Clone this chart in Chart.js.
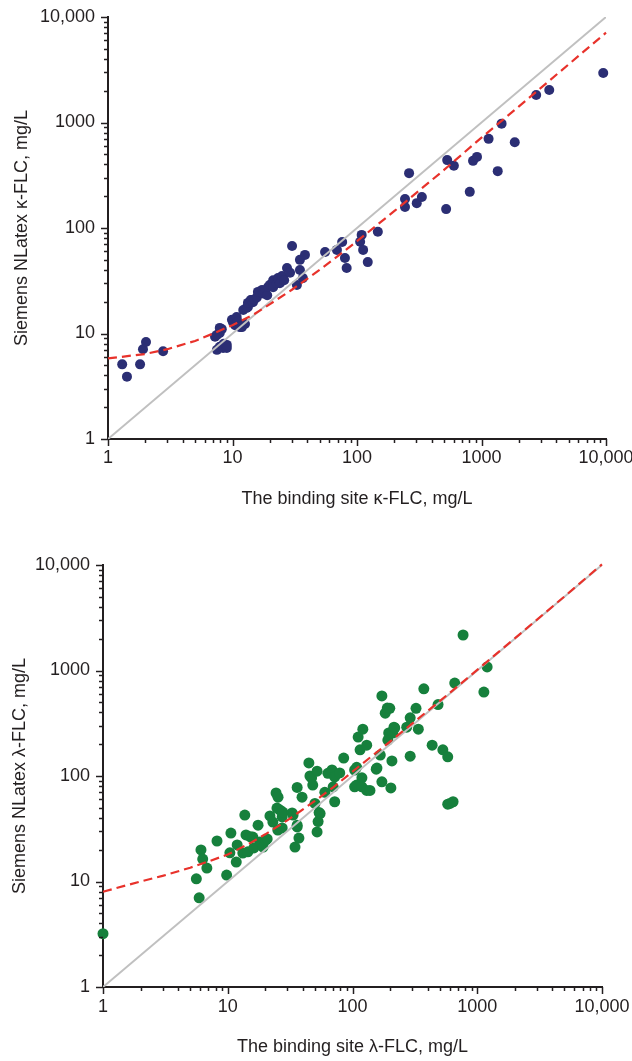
<!DOCTYPE html>
<html><head><meta charset="utf-8">
<script src="https://cdn.jsdelivr.net/npm/chart.js@4.4.1/dist/chart.umd.min.js"></script>
<style>
html,body{margin:0;padding:0;background:#fff;}
#wrap{position:relative;width:632px;height:1061px;overflow:hidden;}
canvas{position:absolute;left:0;}
#c1{top:0;} #c2{top:530px;}
</style></head><body>
<div id="wrap"><canvas id="c1" width="632" height="530"></canvas><canvas id="c2" width="632" height="531"></canvas></div>
<script>
// ---- tick labels ----
const tickValues = [1, 10, 100, 1000, 10000];
const tickLabels = ['1', '10', '100', '1000', '10,000'];

// ---- axis titles ----
const kappaXTitle = 'The binding site \u03BA-FLC, mg/L';
const kappaYTitle = 'Siemens NLatex \u03BA-FLC, mg/L';
const lambdaXTitle = 'The binding site \u03BB-FLC, mg/L';
const lambdaYTitle = 'Siemens NLatex \u03BB-FLC, mg/L';

// ---- kappa data (Binding Site x, Siemens y) ----
const kappaX = [1.3,1.42,1.81,1.91,2.02,2.77,
  7.24,7.5,7.9,8.2,8.4,8.5,9.0,7.9,7.5,9.0,7.9,9.9,10.1,10.5,10.8,11,11.5,11.9,12.2,12.6,13,13.3,13.3,14,14.3,14.6,15,15.7,16,17.3,17.6,18.2,19,19.3,20,21.2,21.2,22.7,23.2,24,25,26,27.4,29,30.1,32.9,34.8,34.8,36.7,38.2,
  55.4,69,76,80,82.6,106,109,112,122,147,
  243,243,262,302,332,520,530,600,805,855,920,1140,1350,1450,1850,2750,3500,9500];
const kappaY = [5.1,3.9,5.1,7.1,8.3,6.8,
  9.3,7.0,7.5,11,7.3,8,7.3,10.1,9.7,7.8,11.3,13.5,12.8,12,14.3,13,11.5,11.5,16.7,12.3,17.5,17.8,19.5,20.8,20.8,19.8,21,22,24.8,25.9,24,24.9,23,27.6,29,32,27.5,30,33.5,30,35,32,41.7,37.6,67.5,28.9,40,49.9,33.5,55.6,
  59.2,62,73.6,52,41.7,74,86,62,47.5,92,
  188,158,331,172,197,151,440,389,220,433,472,700,346,975,650,1820,2030,2950];

// ---- kappa regression curve ----
const kappaFitX = [1,2,3,5,7,10,15,20,30,50,70,100,200,500,1000,2000,5000,10000];
const kappaFitY = [5.8,6.4,7.1,8.5,10,12,15.3,19,26,40,54,75,145,355,720,1420,3550,7100];

// ---- lambda data ----
const lambdaX = [1,5.6,5.9,6.1,6.3,6.8,8.2,9.8,10.6,10.4,11.7,11.9,13.2,13.7,14.0,14.5,15.2,15.9,16.2,17.5,18.1,19.2,20.2,20.7,21.8,23,24.4,25.3,24.8,25.2,26.2,27.3,27.6,27.3,32.8,33.4,36,36,34.6,37.2,36,39.4,
  44.7,45.6,47,48,52,50,52,53,54,55,60,63.5,68.5,72,70,79,72,85,104,104,108,108,115,119,119,111,121,130,130,138,155,157,167,172,
  172,183,190,199,195,192,203,207,210,215,218,272,290,323,337,373,290,435,485,530,580,580,604,640,660,770,1130,1200];
const lambdaY = [3.2,10.6,7.0,19.9,16.3,13.4,24.2,11.5,28.8,18.7,15.3,22.2,18.6,42.6,27.6,19.1,26.5,26.4,20.8,34.2,23.7,21.2,24.7,25.3,41.8,36.6,69,63,49.7,30.7,47.5,40.9,45.5,32.2,44.6,42.6,34.2,32.9,21.2,25.8,78,63,
  133,100,96,82,111,55,29.5,37,45,44,70,106,114,98,79,107,57,148,114,79,82,121,177,96,79,234,278,196,73,73,116,119,158,88,
  574,394,440,438,256,219,77,139,255,290,285,290,356,438,278,670,154,196,475,177,152,54,55,57,760,2170,625,1080];

// ---- lambda regression curve ----
const lambdaFitX = [1,2,3,5,7,10,15,20,30,50,70,100,200,500,1000,2000,5000,10000];
const lambdaFitY = [8,10,11.3,13.5,15.5,18,23,28,38,58,78,110,212,512,1012,2020,5030,10150];

// ---- identity line ----
const identityX = [1, 10000];
const identityY = [1, 10000];

const FONT = "'Liberation Sans', Arial, Helvetica, sans-serif";
const AXIS_COLOR = '#231f20';

function pts(xs, ys) { return xs.map((x, i) => ({x: x, y: ys[i]})); }

function buildLogTicks(axis) {
  const t = [];
  for (let d = 0; d < tickValues.length - 1; d++) {
    for (let m = 1; m <= 9; m++) t.push({value: m * tickValues[d]});
  }
  t.push({value: tickValues[tickValues.length - 1]});
  axis.ticks = t;
}
function labelFor(v) {
  const i = tickValues.indexOf(v);
  return i >= 0 ? tickLabels[i] : '';
}

const tickMarks = {
  id: 'tickMarks',
  afterDraw(chart) {
    const ctx = chart.ctx;
    const xs = chart.scales.x, ys = chart.scales.y;
    ctx.save();
    ctx.strokeStyle = AXIS_COLOR;
    ctx.lineWidth = 1.5;
    xs.ticks.forEach(t => {
      const len = tickValues.includes(t.value) ? 7 : 4;
      const px = Math.round(xs.getPixelForValue(t.value)) + 0.5;
      ctx.beginPath(); ctx.moveTo(px, xs.top); ctx.lineTo(px, xs.top + len); ctx.stroke();
    });
    ys.ticks.forEach(t => {
      const len = tickValues.includes(t.value) ? 7 : 4;
      const py = Math.round(ys.getPixelForValue(t.value)) + 0.5;
      ctx.beginPath(); ctx.moveTo(ys.right, py); ctx.lineTo(ys.right - len, py); ctx.stroke();
    });
    ctx.restore();
  }
};

function makeChart(canvas, o) {
  return new Chart(canvas, {
    type: 'scatter',
    data: {
      datasets: [
        {data: pts(o.fitX, o.fitY), showLine: true, borderColor: '#e8322b', borderWidth: 2.2,
         borderDash: [9, 5], pointRadius: 0, fill: false, clip: false},
        {data: pts(identityX, identityY), showLine: true, borderColor: '#c0c0c0', borderWidth: 2,
         pointRadius: 0, fill: false},
        {data: pts(o.xs, o.ys), showLine: false, backgroundColor: o.color, borderWidth: 0,
         pointRadius: o.r, pointHoverRadius: o.r, clip: false}
      ]
    },
    options: {
      responsive: false, animation: false, devicePixelRatio: 1,
      layout: {padding: {top: o.top, right: 632 - o.right, left: 0, bottom: 0}},
      plugins: {legend: {display: false}, tooltip: {enabled: false}},
      scales: {
        x: {
          type: 'logarithmic', min: 1, max: 10000, position: 'bottom',
          afterBuildTicks: buildLogTicks,
          afterFit(s) { s.height = o.h - o.bottom; s.paddingLeft = 0; s.paddingRight = 0; },
          grid: {display: false, drawTicks: false},
          border: {display: true, color: AXIS_COLOR, width: 2},
          ticks: {autoSkip: false, maxRotation: 0, minRotation: 0, padding: o.xPad, color: '#231f20',
                  font: {family: FONT, size: 18}, callback: v => labelFor(v)},
          title: {display: true, text: o.xTitle, color: '#231f20', font: {family: FONT, size: 18},
                  padding: {top: 0, bottom: o.xTitlePad}}
        },
        y: {
          type: 'logarithmic', min: 1, max: 10000, position: 'left',
          afterBuildTicks: buildLogTicks,
          afterFit(s) { s.width = o.left; s.paddingTop = 0; s.paddingBottom = 0; },
          grid: {display: false, drawTicks: false},
          border: {display: true, color: AXIS_COLOR, width: 2},
          ticks: {autoSkip: false, padding: 13, color: '#231f20',
                  font: {family: FONT, size: 18}, callback: v => labelFor(v)},
          title: {display: true, text: o.yTitle, color: '#231f20', font: {family: FONT, size: 18},
                  padding: {top: o.yTitlePad, bottom: 0}}
        }
      }
    },
    plugins: [tickMarks]
  });
}

makeChart(document.getElementById('c1'), {
  xs: kappaX, ys: kappaY, fitX: kappaFitX, fitY: kappaFitY, color: '#2b2e74', r: 5,
  left: 108, right: 606, top: 17, bottom: 439, h: 530, xPad: 8, xTitlePad: 20, yTitlePad: 11,
  xTitle: kappaXTitle, yTitle: kappaYTitle
});
makeChart(document.getElementById('c2'), {
  xs: lambdaX, ys: lambdaY, fitX: lambdaFitX, fitY: lambdaFitY, color: '#16803c', r: 5.5,
  left: 103, right: 602, top: 35, bottom: 457, h: 531, xPad: 9, xTitlePad: 3, yTitlePad: 9,
  xTitle: lambdaXTitle, yTitle: lambdaYTitle
});
</script>
</body></html>
